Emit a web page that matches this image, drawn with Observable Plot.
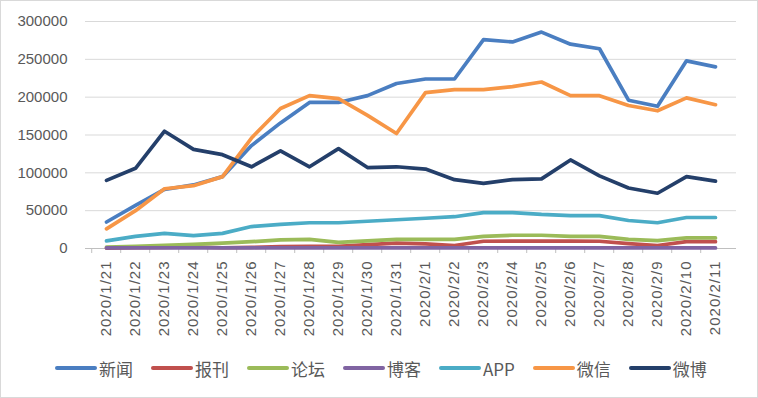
<!DOCTYPE html>
<html>
<head>
<meta charset="utf-8">
<script src="https://cdn.jsdelivr.net/npm/d3@7"></script>
<script src="https://cdn.jsdelivr.net/npm/@observablehq/plot@0.6"></script>
<style>
  html, body { margin: 0; padding: 0; background: #fff; }
  #wrap { position: relative; width: 758px; height: 398px; overflow: hidden; background: #fff; }
  #frame { position: absolute; left: 0; top: 0; width: 756px; height: 396px; border: 1px solid #d9d9d9; pointer-events: none; }
  #chart { position: absolute; left: 0; top: 0; }
  #chart svg { color: #595959; }
  #chart g[aria-label="x-axis tick label"] text { letter-spacing: 1px; }
  #legend { position: absolute; left: 55px; top: 356px; height: 24px; display: flex; align-items: center; gap: 18px;
            font-family: "Noto Sans CJK SC", sans-serif; font-size: 17px; color: #595959; }
  .item { display: flex; align-items: center; }
  .sw { width: 42px; height: 4px; border-radius: 2px; margin-right: 2px; }
</style>
</head>
<body>
<div id="wrap">
  <div id="chart"></div>
  <div id="legend"></div>
  <div id="frame"></div>
</div>
<script>
const dates = ["2020/1/21","2020/1/22","2020/1/23","2020/1/24","2020/1/25","2020/1/26","2020/1/27","2020/1/28","2020/1/29","2020/1/30","2020/1/31","2020/2/1","2020/2/2","2020/2/3","2020/2/4","2020/2/5","2020/2/6","2020/2/7","2020/2/8","2020/2/9","2020/2/10","2020/2/11"];
const seriesNames = ["新闻","报刊","论坛","博客","APP","微信","微博"];
const seriesColors = ["#4A7EC1","#C0504D","#9BBB59","#8064A2","#4BACC6","#F79646","#243F6A"];
const xinwen = [35000,57000,78000,84000,95000,136000,166000,193000,193000,202000,218000,224000,224000,276000,273000,286000,270000,264000,196000,188000,248000,240000];
const baokan = [500,1000,1500,2000,1000,1500,2500,3000,3000,5000,7000,6000,4000,9600,9800,9800,9800,9600,6500,4000,9000,9000];
const luntan = [2000,3000,4000,5500,7000,9000,11500,12000,8000,10000,12000,12000,12000,16000,17500,17500,16000,16000,12000,10500,14000,14000];
const boke = [800,800,800,800,800,800,800,800,800,800,800,800,800,800,800,800,800,800,800,800,800,800];
const app = [10000,16000,20000,17000,20000,29000,32000,34000,34000,36000,38000,40000,42000,47500,47500,45000,43500,43500,37000,34000,41000,41000];
const weixin = [26000,50000,79000,83000,95000,146000,185000,202000,198000,176000,152000,206000,210000,210000,214000,220000,202000,202000,189000,182000,199000,190000];
const weibo = [90000,106000,155000,131000,124000,108000,129000,108000,132000,107000,108000,105000,91000,86000,91000,92000,117000,96000,80000,73000,95000,89000];
const yTicks = [0,50000,100000,150000,200000,250000,300000];

const allSeries = [xinwen, baokan, luntan, boke, app, weixin, weibo];

const width = 758, marginLeft = 85, marginRight = 22;
const step = (width - marginLeft - marginRight) / dates.length;

const lineMarks = allSeries.map((vals, i) =>
  Plot.line(dates.map((d, j) => ({date: d, value: vals[j]})), {
    x: "date", y: "value", stroke: seriesColors[i], strokeWidth: 3.7,
    strokeLinejoin: "round", strokeLinecap: "round"
  })
);

const chart = Plot.plot({
  width, height: 345,
  marginLeft, marginRight, marginTop: 21, marginBottom: 97,
  style: {fontFamily: "'Liberation Sans', sans-serif", background: "transparent"},
  x: {type: "point", domain: dates, padding: 0.5},
  y: {domain: [0, 300000]},
  marks: [
    Plot.gridY(yTicks, {stroke: "#d9d9d9", strokeOpacity: 1, strokeWidth: 1}),
    Plot.axisY(yTicks, {tickSize: 0, tickPadding: 18, fontSize: 15, tickFormat: d => String(d), label: null}),
    Plot.ruleY([0], {stroke: "#bfbfbf", strokeWidth: 1}),
    Plot.axisX({tickSize: 5, tickFormat: () => "", dx: -step / 2, stroke: "#bfbfbf", label: null}),
    Plot.axisX({tickSize: 0, tickPadding: 12, tickRotate: -90, fontSize: 15, label: null}),
    ...lineMarks
  ]
});
document.getElementById("chart").appendChild(chart);

const legend = document.getElementById("legend");
seriesNames.forEach((name, i) => {
  const item = document.createElement("div");
  item.className = "item";
  const sw = document.createElement("div");
  sw.className = "sw";
  sw.style.background = seriesColors[i];
  const t = document.createElement("span");
  t.textContent = name;
  item.appendChild(sw);
  item.appendChild(t);
  legend.appendChild(item);
});
</script>
</body>
</html>
